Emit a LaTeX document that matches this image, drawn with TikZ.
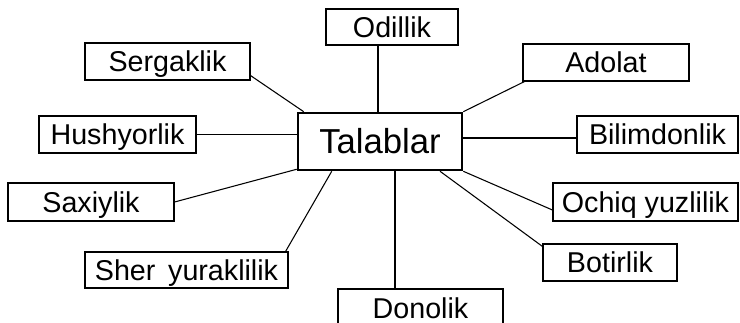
\documentclass[tikz,border=0pt]{standalone}
\usepackage{fontspec}
\setmainfont{Liberation Sans}
\usetikzlibrary{calc}
\tikzset{
  % text boxes are centred on the capital height, descenders ignored
  lbl/.style={draw, line width=0.9pt, inner sep=0pt, text height=15.4pt, text depth=0pt,
    font=\fontsize{21.5pt}{25pt}\selectfont},
  hub/.style={draw, line width=1.9pt, inner sep=0pt, text height=18.6pt, text depth=0pt,
    font=\fontsize{26pt}{30pt}\selectfont},
  link/.style={line width=0.8pt}
}
\begin{document}
\begin{tikzpicture}[x=0.75pt, y=-0.75pt]
  \clip (0,0) rectangle (740,323);
  \fill[white] (0,0) rectangle (740,323);

  % central node
  \node[hub, minimum width=164*0.75pt, minimum height=57*0.75pt] (tal) at (380,141.5) {Talablar};

  % surrounding qualities
  \node[lbl, minimum width=132*0.75pt, minimum height=36*0.75pt] (odil) at (392,27) {Odillik};
  \node[lbl, minimum width=165*0.75pt, minimum height=37*0.75pt] (serg) at (167.5,61.5) {Sergaklik};
  \node[lbl, minimum width=166*0.75pt, minimum height=37*0.75pt] (adol) at (606,62.5) {Adolat};
  \node[lbl, minimum width=157*0.75pt, minimum height=37*0.75pt] (hush) at (117.5,134.5) {Hushyorlik};
  \node[lbl, minimum width=161*0.75pt, minimum height=37*0.75pt] (bil) at (657.5,134.5) {Bilimdonlik};
  \node[lbl, minimum width=166*0.75pt, minimum height=38*0.75pt] (sax) at (91,202) {Saxiylik};
  \node[lbl, minimum width=185*0.75pt, minimum height=38*0.75pt] (och) at (645.5,202) {Ochiq yuzlilik};
  \node[lbl, minimum width=203*0.75pt, minimum height=36*0.75pt] (sher) at (186.5,270) {Sher\, yuraklilik};
  \node[lbl, minimum width=134*0.75pt, minimum height=37*0.75pt] (bot) at (610,262.5) {Botirlik};
  \node[lbl, minimum width=165*0.75pt, minimum height=38*0.75pt] (don) at (420.5,308) {Donolik};

  % connectors
  \draw[link] ($(serg.south east)+(0,-5)$) -- ($(tal.north west)+(7,0)$);
  \draw[link] (hush.east) -- (hush.east -| tal.west);
  \draw[link] (sax.east) -- ($(tal.south west)+(0,-2)$);
  \draw[link] ($(sher.north east)+(-3,0)$) -- ($(tal.south west)+(35,0)$);
  \draw[link] ($(odil.south)+(-14,0)$) coordinate (o1) -- (o1 |- tal.north);
  \draw[link] ($(adol.south west)+(2,0)$) -- (tal.north east);
  \draw[link] ($(tal.east)+(0,-3.5)$) coordinate (b1) -- (b1 -| bil.west);
  \draw[link] (tal.south east) -- ($(och.west)+(0,8)$);
  \draw[link] ($(tal.south)+(60,0)$) -- ($(bot.north west)+(0,3)$);
  \draw[link] ($(tal.south)+(15,0)$) coordinate (d1) -- (d1 |- don.north);
\end{tikzpicture}
\end{document}
